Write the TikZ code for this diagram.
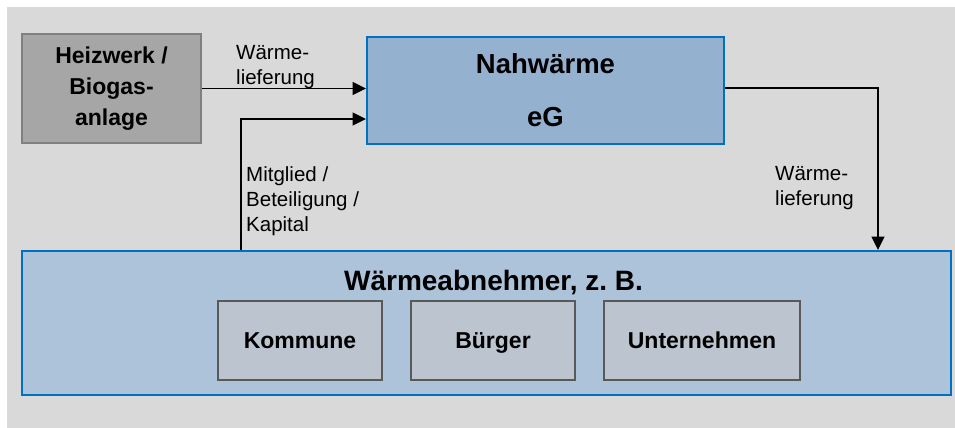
\documentclass[tikz,border=0pt]{standalone}
\usepackage{fontspec}
\setmainfont{Liberation Sans}
\usetikzlibrary{arrows.meta,positioning,calc}
\definecolor{bgcolor}{RGB}{217,217,217}
\definecolor{HWcolor}{RGB}{166,166,166}
\definecolor{HWborder}{RGB}{128,128,128}
\definecolor{NWcolor}{RGB}{149,177,208}
\definecolor{ABcolor}{RGB}{173,195,218}
\definecolor{SUBcolor}{RGB}{187,196,207}
\definecolor{SUBborder}{RGB}{89,89,89}
\definecolor{BLborder}{RGB}{0,112,192}
\tikzset{>={Triangle[length=13.5pt,width=13pt]}}
\tikzset{
  box/.style={draw, line width=2pt, inner sep=0pt, align=center,
    font=\bfseries\fontsize{23}{31}\selectfont},
  subbox/.style={box, fill=SUBcolor, draw=SUBborder, minimum height=79pt,
    text height=16.5pt, text depth=0pt},
  lbl/.style={anchor=north west, inner sep=0pt, align=left,
    font=\fontsize{20.5}{25}\selectfont},
  flow/.style={->, line width=1.5pt}
}

\begin{document}
\begin{tikzpicture}[x=1pt,y=-1pt]
\useasboundingbox (0,0) rectangle (955,428);
\fill[bgcolor] (7,7) rectangle (955,428);
% boxes
\node[box, fill=HWcolor, draw=HWborder, minimum width=179pt, minimum height=109pt]
  (heiz) at (111.5,88.5) {Heizwerk /\\Biogas-\\anlage};
\node[box, fill=NWcolor, draw=BLborder, minimum width=357pt, minimum height=107pt,
  font=\bfseries\fontsize{27.5}{53}\selectfont] (nah) at (545.5,90.5) {Nahwärme\\eG};
\node[box, fill=ABcolor, draw=BLborder, minimum width=929pt, minimum height=144pt]
  (abn) at (486.5,323) {};
\node[anchor=base, font=\bfseries\fontsize{28}{32}\selectfont]
  (abntitle) at (493.5,290) {Wärmeabnehmer, z.\ B.};
\node[subbox, minimum width=164pt] (kommune) at (300,340.5) {Kommune};
\node[subbox, minimum width=164pt] (buerger) at (493,340.5) {Bürger};
\node[subbox, minimum width=196pt] (unternehmen) at (702,340.5) {Unternehmen};
% connectors
\coordinate (kap) at (241,119);
\coordinate (lief) at (878,88);
\draw[flow] (heiz.east) -- (heiz.east -| nah.west);
\draw[flow] (kap |- abn.north) -- (kap) -- (kap -| nah.west);
\draw[flow] (nah.east |- lief) -- (lief) -- (lief |- abn.north);
% labels
\node[lbl] (liefA) at (236,45) {Wärme-\\lieferung};
\node[lbl] (liefB) at (775,166.5) {Wärme-\\lieferung};
\node[lbl] (mitglied) at (246,166) {Mitglied /\\Beteiligung /\\Kapital};
\end{tikzpicture}
\end{document}
